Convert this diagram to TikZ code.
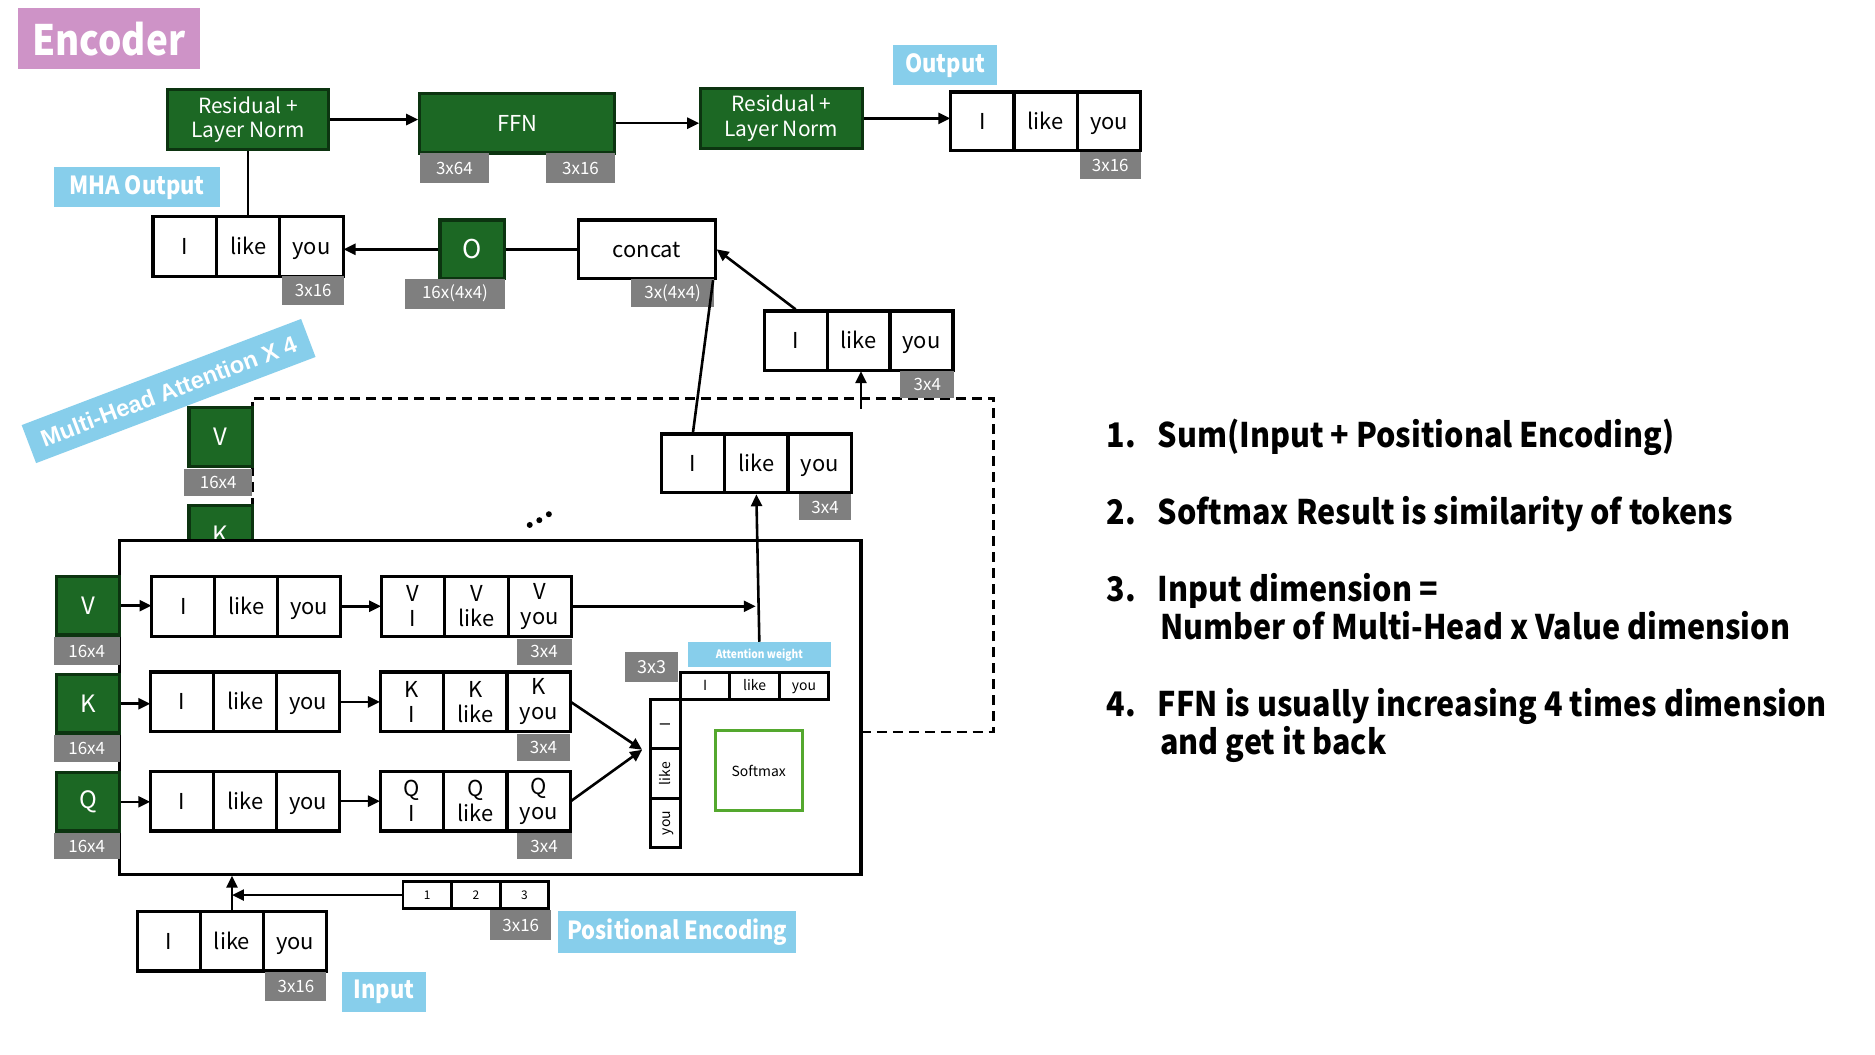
\documentclass[tikz,border=0pt]{standalone}
\usepackage{fontspec}
\setmainfont{Noto Sans CJK KR}
\newfontfamily\arialfont{Liberation Sans}
\newfontfamily\listfont{Noto Sans CJK KR}[FakeStretch=0.9]
\newfontfamily\condfont{Noto Sans CJK KR}[FakeStretch=0.88]
\usetikzlibrary{arrows.meta,calc}
\definecolor{dgreen}{RGB}{28,104,36}
\definecolor{gborder}{RGB}{12,52,16}
\definecolor{labgray}{RGB}{127,127,127}
\definecolor{lblue}{RGB}{135,206,235}
\definecolor{pinkc}{RGB}{206,147,199}
\definecolor{smgreen}{RGB}{84,168,46}
\newcommand\fsz[1]{\fontsize{#1}{#1}\selectfont}
\newcommand\fszl{\fontsize{11}{12.5}\selectfont}
% box from corner (x1,y1) to (x2,y2), in picture pixels
\newcommand\bx[7][]{%
  \pgfmathsetmacro\bxW{(#5-#3)*0.6}%
  \pgfmathsetmacro\bxH{(#6-#4)*0.6}%
  \pgfmathsetmacro\bxX{(#3+#5)/2}%
  \pgfmathsetmacro\bxY{(#4+#6)/2}%
  \node[inner sep=0pt,minimum width=\bxW pt,minimum height=\bxH pt,#1] (#2) at (\bxX,\bxY) {#7};%
}
\newcommand\tokrow[9][]{%
  \pgfmathsetmacro\tkA{#3+(#5-#3)/3}%
  \pgfmathsetmacro\tkB{#3+2*(#5-#3)/3}%
  \bx[cell,tok,#1]{#2-1}{#3}{#4}{\tkA}{#6}{#7}%
  \bx[cell,tok,#1]{#2-2}{\tkA}{#4}{\tkB}{#6}{#8}%
  \bx[cell,tok,#1]{#2-3}{\tkB}{#4}{#5}{#6}{#9}%
  \bx{#2}{#3}{#4}{#5}{#6}{}%
}
\newcommand\glab[7][]{\bx[glabel,#1]{#2}{#3}{#4}{#5}{#6}{#7}}
\begin{document}
\begin{tikzpicture}[x=0.6pt,y=-0.6pt,
  cell/.style={draw=black,line width=1.6pt,fill=white,align=center,font=\fsz{11}},
  tok/.style={text height=8pt,text depth=0pt},
  multi/.style={text height=,text depth=,font=\fszl},
  gbox/.style={draw=gborder,line width=1.6pt,fill=dgreen,align=center,text=white,font=\fontsize{10.5}{12.5}\selectfont},
  glabel/.style={fill=labgray,text=white,font=\fsz{8.5}},
  blabel/.style={fill=lblue,text=white,font=\condfont\bfseries\fsz{12.5}},
  arr/.style={line width=1.3pt,-{Triangle[length=6pt,width=5.5pt]}},
  ln/.style={line width=1.3pt},
  listf/.style={anchor=base west,inner sep=0pt,font=\listfont\bfseries\fsz{17}}]
\fill[white] (0,0) rectangle (1568,882);
\useasboundingbox (0,0) rectangle (1568,882);

% dashed region of the other heads
\draw[line width=1.3pt,dash pattern=on 5pt off 3pt] (720,612) -- (831,612) -- (831,333) -- (211,333) -- (211,452);

% title
\bx[fill=pinkc,text=white,font=\condfont\bfseries\fsz{21}]{enc}{15}{7}{167}{58}{Encoder}

% top row
\bx[gbox]{rl1}{140}{75}{275}{125}{Residual +\\Layer Norm\vphantom{p}}
\bx[gbox,font=\fsz{11}]{ffn}{351}{78}{514}{128}{FFN}
\glab{ffnl1}{351}{128}{409}{153}{3x64}
\glab{ffnl2}{457}{128}{514}{153}{3x16}
\bx[gbox]{rl2}{586}{74}{721}{124}{Residual +\\Layer Norm}
\tokrow{out}{795}{77}{954}{126}{I}{like}{you}
\glab{outl}{903}{127}{954}{150}{3x16}
\bx[blabel]{outlab}{747}{38}{834}{71}{Output}

\draw[arr] (rl1.east) -- (rl1.east -| ffn.west);
\draw[arr] (ffn.east) -- (ffn.east -| rl2.west);
\draw[arr] (rl2.east) -- (rl2.east -| out.west);

% MHA output row
\bx[blabel]{mhalab}{45}{140}{184}{173}{MHA Output}
\tokrow{mha}{128}{181}{287}{231}{I}{like}{you}
\glab{mhal}{236}{231}{288}{255}{3x16}
\bx[gbox,font=\fsz{13}]{o}{368}{184}{422}{233}{O}
\glab{ol}{339}{233}{422}{258}{16x(4x4)}
\bx[cell,tok]{concat}{484}{184}{598}{233}{concat}
\glab{concatl}{528}{233}{597}{257}{3x(4x4)}
\draw[ln] (rl1.south) -- (rl1.south |- mha.north);
\draw[arr] (o.west) -- (o.west -| mha.east);
\draw[ln] (o.east) -- (o.east -| concat.west);

% outputs of heads
\tokrow{headb}{639}{260}{797}{310}{I}{like}{you}
\glab{headbl}{753}{310}{798}{333}{3x4}
\tokrow{head}{553}{363}{712}{412}{I}{like}{you}
\glab{headl}{668}{413}{712}{435}{3x4}
\coordinate (dtop) at (720,342);
\draw[arr] (dtop) -- (dtop |- headb.south);
\draw[arr] (headb-1.north) -- (concat.east);
\draw[ln] (head-1.north) -- ($(concat.south east)+(-3,0)$);

% background head
\bx[gbox,font=\fsz{12}]{bv}{158}{341}{211}{390}{V}
\glab{bvl}{154}{392}{211}{415}{16x4}
\bx[gbox,font=\fsz{12}]{bk}{158}{423}{211}{472}{K}
\fill (443,439) circle (1.5pt) (451,435) circle (1.5pt) (459,430) circle (1.5pt);

% banner
\node[fill=lblue,rotate=20.8,minimum width=150pt,minimum height=20.4pt,inner sep=0pt,text=white,font=\arialfont\bfseries\fsz{11.8}] (mhab) at (141,327) {Multi-Head Attention X 4};

% inner head box
\bx[draw=black,line width=1.6pt,fill=white]{inner}{100}{452}{720}{731}{}

\bx[gbox,font=\fsz{12}]{gv}{47}{482}{100}{531}{V}
\glab{gvl}{45}{533}{100}{556}{16x4}
\bx[gbox,font=\fsz{12}]{gk}{47}{564}{100}{613}{K}
\glab{gkl}{45}{615}{100}{637}{16x4}
\bx[gbox,font=\fsz{12}]{gq}{47}{646}{100}{695}{Q}
\glab{gql}{45}{697}{100}{718}{16x4}

\tokrow{r1}{127}{482}{285}{532}{I}{like}{you}
\tokrow{r2}{126}{562}{284}{612}{I}{like}{you}
\tokrow{r3}{126}{645}{284}{695}{I}{like}{you}
\tokrow[multi]{vr}{319}{482}{478}{532}{V\\I}{V\\like}{V\\you}
\tokrow[multi]{kr}{318}{562}{477}{612}{K\\I}{K\\like}{K\\you}
\tokrow[multi]{qr}{318}{645}{477}{695}{Q\\I}{Q\\like}{Q\\you}
\glab{vrl}{432}{534}{478}{556}{3x4}
\glab{krl}{432}{614}{477}{636}{3x4}
\glab{qrl}{432}{697}{478}{718}{3x4}

\draw[arr] (gv.east) -- (gv.east -| r1.west);
\draw[arr] (gk.east) -- (gk.east -| r2.west);
\draw[arr] (gq.east) -- (gq.east -| r3.west);
\draw[arr] (r1.east) -- (r1.east -| vr.west);
\draw[arr] (r2.east) -- (r2.east -| kr.west);
\draw[arr] (r3.east) -- (r3.east -| qr.west);

% attention matrix
\bx[blabel,font=\condfont\bfseries\fsz{5.8}]{attl}{575}{537}{695}{558}{Attention weight}
\glab[font=\fsz{9}]{l33}{523}{545}{567}{570}{3x3}
\tokrow[font=\fsz{7},text height=5pt,line width=1.5pt]{mt}{569}{562}{693}{585}{I}{like}{you}
\bx[cell,line width=1.5pt]{mc-1}{544}{585}{569}{626.3}{}
\bx[cell,line width=1.5pt]{mc-2}{544}{626.3}{569}{667.7}{}
\bx[cell,line width=1.5pt]{mc-3}{544}{667.7}{569}{709}{}
\node[rotate=90,font=\fsz{7},inner sep=0pt,text height=5pt,text depth=0pt] (mct1) at (mc-1.center) {I};
\node[rotate=90,font=\fsz{7},inner sep=0pt,text height=5pt,text depth=0pt] (mct2) at (mc-2.center) {like};
\node[rotate=90,font=\fsz{7},inner sep=0pt,text height=5pt,text depth=0pt] (mct3) at (mc-3.center) {you};
\bx[draw=smgreen,line width=1.5pt,font=\fsz{7}]{soft}{598}{611}{671}{678}{Softmax}

\coordinate (vend) at (632,507);
\coordinate (conv) at (537,627);
\draw[arr] (vr.east) -- (vend);
\draw[arr] (kr.east) -- (conv);
\draw[arr] (qr.east) -- (conv);
\draw[arr] (attl.north) -- (head-2.south);

% input and positional encoding
\tokrow[font=\fsz{6},text height=4.3pt,line width=1.4pt]{pe}{337}{737}{459}{760}{1}{2}{3}
\glab{pel}{410}{761}{461}{786}{3x16}
\bx[blabel]{pelab}{467}{762}{666}{797}{Positional Encoding}
\tokrow{inp}{115}{762}{273}{812}{I}{like}{you}
\glab{inpl}{222}{813}{273}{837}{3x16}
\bx[blabel]{inplab}{286}{813}{356}{846}{Input}
\draw[arr] (pe.west) -- (pe.west -| inp-2.north);
\draw[arr] (inp-2.north) -- (inp-2.north |- inner.south);

% notes
\node[listf] (n1) at (925,374) {1.};
\node[listf] (t1) at (968,374) {Sum(Input + Positional Encoding)};
\node[listf] (n2) at (925,439) {2.};
\node[listf] (t2) at (968,439) {Softmax Result is similarity of tokens};
\node[listf] (n3) at (925,503) {3.};
\node[listf] (t3) at (968,503) {Input dimension =};
\node[listf] (t3b) at (970,535) {Number of Multi-Head x Value dimension};
\node[listf] (n4) at (925,599) {4.};
\node[listf] (t4) at (968,599) {FFN is usually increasing 4 times dimension};
\node[listf] (t4b) at (970,631) {and get it back};
\end{tikzpicture}
\end{document}
